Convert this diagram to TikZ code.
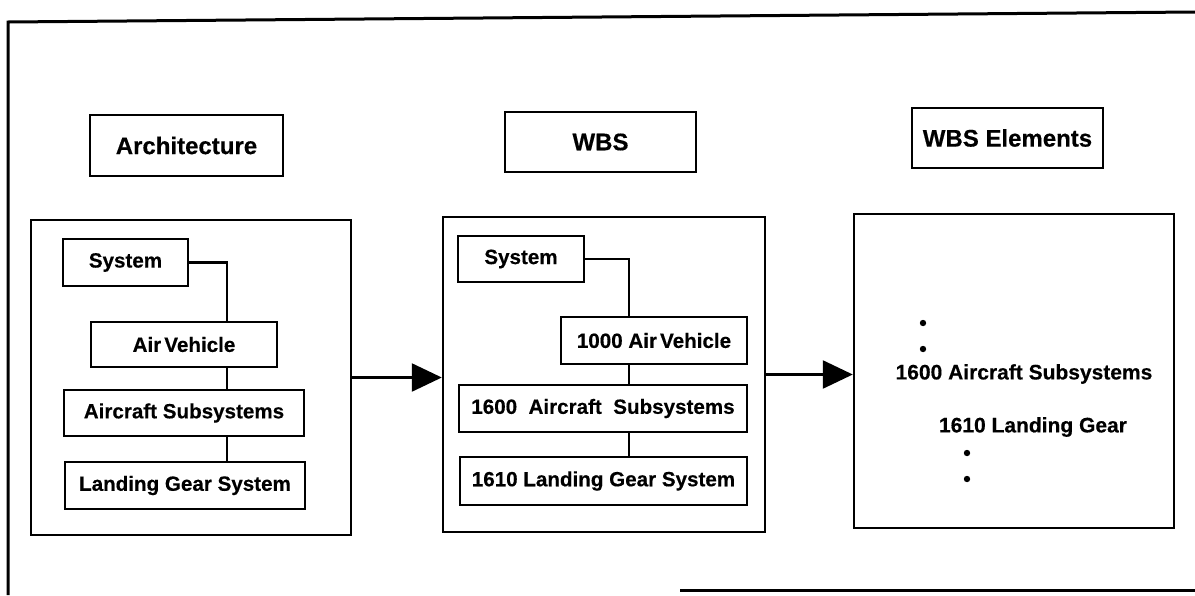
\documentclass[tikz,border=0pt]{standalone}
\usepackage{fontspec}
\setmainfont{Liberation Sans}[BoldFeatures={FakeBold=0.4}]
\usetikzlibrary{arrows.meta}
\begin{document}
\begin{tikzpicture}[x=0.5pt,y=-0.5pt,
  frame/.style={line width=1.5pt},
  panel/.style={draw,line width=1.2pt,inner sep=0pt,rectangle},
  box/.style={draw,line width=1.2pt,inner sep=0pt,rectangle,font=\fontsize{10.3}{12}\selectfont\bfseries},
  titlebox/.style={draw,line width=1.2pt,inner sep=0pt,rectangle,font=\fontsize{12}{14}\selectfont\bfseries},
  elem/.style={inner sep=0pt,font=\fontsize{10.5}{12}\selectfont\bfseries},
  dotn/.style={circle,fill,inner sep=0pt,minimum size=3.2pt},
  link/.style={line width=1.1pt},
  flow/.style={line width=1.2pt,-{Triangle[length=15pt,width=14pt]}}]
\useasboundingbox (0,0) rectangle (1195,595);
% outer frame
\coordinate (fTL) at (8,22);
\coordinate (fTR) at (1195,12);
\coordinate (fBL) at (8,595);
\coordinate (fB1) at (680,590);
\coordinate (fB2) at (1195,590);
\draw[frame] (fBL) -- (fTL) -- (fTR);
\draw[frame] (fB1) -- (fB2);
% titles
\node[titlebox,minimum width=96.5pt,minimum height=30.5pt] (tArch) at (186.5,145.5) {Architecture};
\node[titlebox,minimum width=95.5pt,minimum height=30pt] (tWBS) at (600.5,142) {WBS};
\node[titlebox,minimum width=95.5pt,minimum height=30pt] (tElem) at (1007.5,138) {WBS Elements};
% left panel
\node[panel,minimum width=160pt,minimum height=157.5pt] (L) at (191,377.5) {};
\node[box,minimum width=62.5pt,minimum height=23.5pt] (lSys) at (125.5,262.5) {System};
\node[box,minimum width=93pt,minimum height=22.5pt] (lAV) at (184,344.5) {Air\kern0.15em Vehicle};
\node[box,minimum width=120pt,minimum height=23pt] (lAS) at (184,413) {Aircraft Subsystems};
\node[box,minimum width=120pt,minimum height=23.5pt] (lLG) at (185,485.5) {Landing Gear System};
\coordinate (lcx) at (227,0);
\draw[link] (lSys.east) -| (lAV.north -| lcx);
\draw[link] (lAV.south -| lcx) -- (lAS.north -| lcx);
\draw[link] (lAS.south -| lcx) -- (lLG.north -| lcx);
% middle panel
\node[panel,minimum width=161pt,minimum height=157.5pt] (M) at (604,374.5) {};
\node[box,minimum width=63pt,minimum height=23pt] (mSys) at (521,259) {System};
\node[box,minimum width=93pt,minimum height=23.5pt] (mAV) at (654,340.5) {1000 Air\kern0.15em Vehicle};
\node[box,minimum width=144pt,minimum height=23.5pt] (mAS) at (603,408.5) {1600\ \ Aircraft\ \ Subsystems};
\node[box,minimum width=143.5pt,minimum height=24pt] (mLG) at (603.5,481) {1610 Landing Gear System};
\coordinate (mcx) at (629,0);
\draw[link] (mSys.east) -| (mAV.north -| mcx);
\draw[link] (mAV.south -| mcx) -- (mAS.north -| mcx);
\draw[link] (mAS.south -| mcx) -- (mLG.north -| mcx);
% right panel
\node[panel,minimum width=160pt,minimum height=157pt] (R) at (1014,371) {};
\node[dotn] (d1) at (923,323) {};
\node[dotn] (d2) at (923,349) {};
\node[elem] (eAS) at (1024,374) {1600 Aircraft Subsystems};
\node[elem] (eLG) at (1033,427) {1610 Landing Gear};
\node[dotn] (d3) at (967,453) {};
\node[dotn] (d4) at (967,479) {};
% arrows
\draw[flow] (L.east) -- (L.east -| M.west);
\draw[flow] (M.east) -- (M.east -| R.west);
\end{tikzpicture}
\end{document}
